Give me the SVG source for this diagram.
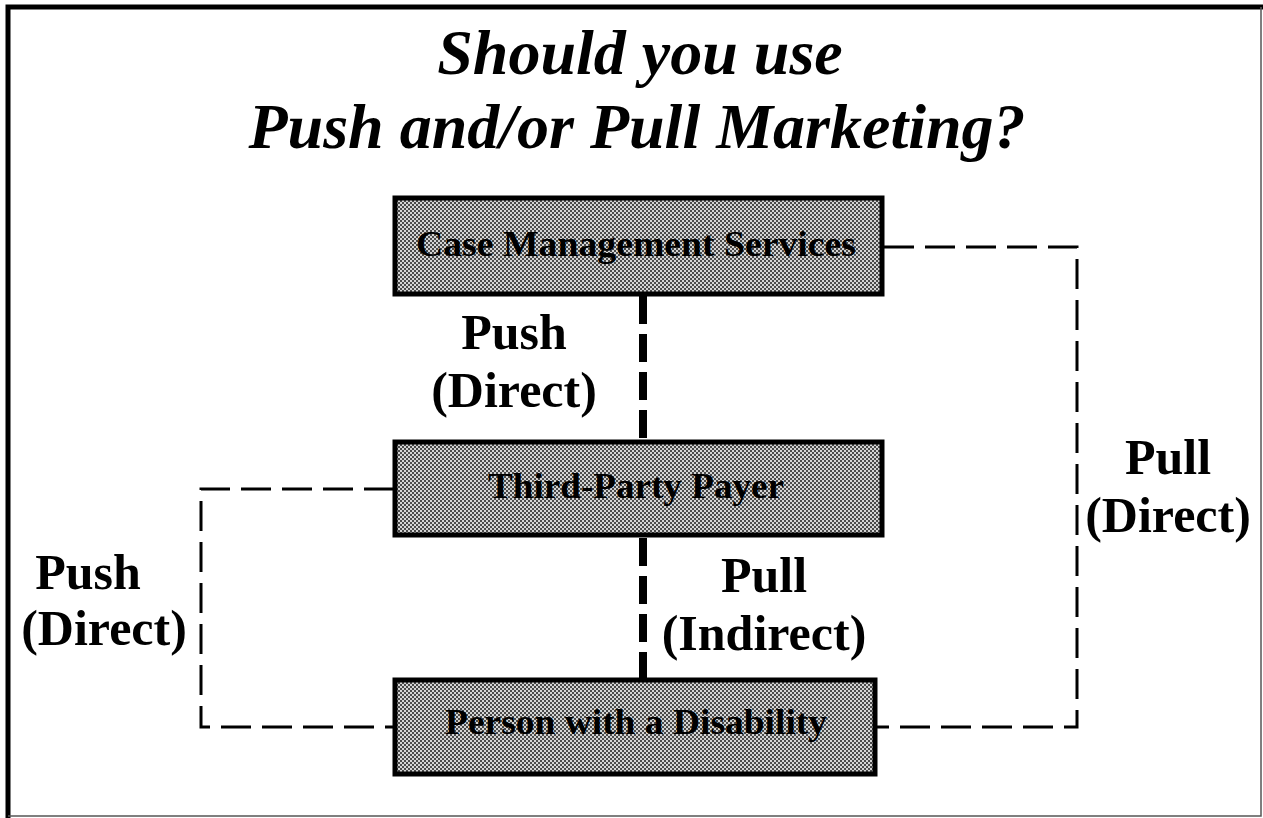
<svg xmlns="http://www.w3.org/2000/svg" width="1263" height="818" viewBox="0 0 1263 818">
<defs>
<pattern id="ht" width="4" height="4" patternUnits="userSpaceOnUse">
<rect width="4" height="4" fill="#d4d4d4"/>
<rect x="0" y="0" width="2" height="2" fill="#4a4a4a"/>
<rect x="2" y="2" width="2" height="2" fill="#4a4a4a"/>
</pattern>
</defs>
<style>
.box{fill:url(#ht);stroke:#000;stroke-width:5}
.bt{font-family:"Liberation Serif",serif;font-weight:bold;font-size:36px;text-anchor:middle;fill:#000}
.lbl{font-family:"Liberation Serif",serif;font-weight:bold;font-size:50px;text-anchor:middle;fill:#000}
.title{font-family:"Liberation Serif",serif;font-weight:bold;font-style:italic;font-size:64px;text-anchor:middle;fill:#000}
.thick{fill:none;stroke:#000;stroke-width:8;stroke-dasharray:28 10}
.thin{fill:none;stroke:#000;stroke-width:3;stroke-dasharray:30 11}
</style>
<rect width="1263" height="818" fill="#fff"/>
<g id="frame">
<path d="M8 818 V7 H1263" fill="none" stroke="#000" stroke-width="5"/>
<path d="M1261 7 V816 H8" fill="none" stroke="#555" stroke-width="1.5"/>
</g>
<g id="title">
<text class="title" x="640" y="74">Should you use</text>
<text class="title" x="637" y="148">Push and/or Pull Marketing?</text>
</g>
<g id="connectors">
<line class="thick" x1="643" y1="296" x2="643" y2="440"/>
<line class="thick" x1="643" y1="538" x2="643" y2="678"/>
<path class="thin" d="M394 489 H201 V727 H394"/>
<path class="thin" d="M884 247 H1077 V727 H876"/>
</g>
<g id="node-case">
<rect class="box" x="395" y="198" width="487" height="96"/>
<text class="bt" x="636" y="256" textLength="440" lengthAdjust="spacingAndGlyphs">Case Management Services</text>
</g>
<g id="node-payer">
<rect class="box" x="395" y="442" width="487" height="93"/>
<text class="bt" x="636" y="498" textLength="296" lengthAdjust="spacingAndGlyphs">Third-Party Payer</text>
</g>
<g id="node-person">
<rect class="box" x="395" y="680" width="480" height="94"/>
<text class="bt" x="636" y="734" textLength="382" lengthAdjust="spacingAndGlyphs">Person with a Disability</text>
</g>
<g id="labels">
<text class="lbl" x="514" y="349">Push</text>
<text class="lbl" x="514" y="407">(Direct)</text>
<text class="lbl" x="1168" y="474">Pull</text>
<text class="lbl" x="1168" y="532">(Direct)</text>
<text class="lbl" x="88" y="589">Push</text>
<text class="lbl" x="104" y="645">(Direct)</text>
<text class="lbl" x="764" y="592">Pull</text>
<text class="lbl" x="764" y="650">(Indirect)</text>
</g>
</svg>
